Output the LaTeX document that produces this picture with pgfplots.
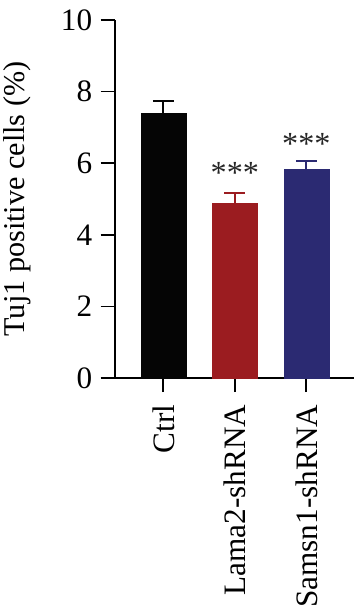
\documentclass[border={0pt 4pt 1pt 6pt}]{standalone}
\usepackage{pgfplots}
\pgfplotsset{compat=1.18}
\usepackage{fontspec}
\setmainfont{Liberation Serif}
\definecolor{cblack}{HTML}{050505}
\definecolor{cred}{HTML}{9B1C20}
\definecolor{cblue}{HTML}{2B2A72}
\begin{document}
\begin{tikzpicture}
\begin{axis}[
  scale only axis, width=238pt, height=356pt,
  xmin=-0.68, xmax=2.67, ymin=0, ymax=10,
  axis x line*=bottom, axis y line*=left,
  axis line style={line width=1.8pt, -},
  xtick={0,1,2}, xticklabels={Ctrl,Lama2-shRNA,Samsn1-shRNA},
  x tick label style={rotate=90, anchor=east, font=\fontsize{31}{32}\selectfont},
  xticklabel shift=9pt,
  ytick={0,2,4,6,8,10}, yticklabels={0,2,4,6,8,10},
  y tick label style={font=\fontsize{31}{32}\selectfont},
  yticklabel shift=5pt,
  tick style={line width=1.8pt, black},
  major tick length=14pt,
  tick align=outside,
  ylabel={Tuj1 positive cells (\%)},
  every axis y label/.style={at={(axis description cs:0,0.5)}, rotate=90, anchor=south, yshift=80pt, font=\fontsize{30}{30}\selectfont},
  ybar, bar width=45pt, bar shift=0pt,
  clip=false,
]
\addplot[fill=cblack, draw=cblack, error bars/.cd, y dir=plus, y explicit,
  error bar style={line width=1.8pt, cblack},
  error mark options={rotate=90, mark size=10.5pt, line width=1.8pt, cblack}]
  coordinates {(0,7.40) +- (0,0.33)};
\addplot[fill=cred, draw=cred, error bars/.cd, y dir=plus, y explicit,
  error bar style={line width=1.8pt, cred},
  error mark options={rotate=90, mark size=10.5pt, line width=1.8pt, cred}]
  coordinates {(1,4.88) +- (0,0.28)};
\addplot[fill=cblue, draw=cblue, error bars/.cd, y dir=plus, y explicit,
  error bar style={line width=1.8pt, cblue},
  error mark options={rotate=90, mark size=10.5pt, line width=1.8pt, cblue}]
  coordinates {(2,5.82) +- (0,0.24)};
\node[font=\fontsize{32}{32}\selectfont, text=black!85] at (axis cs:1,5.74) {***};
\node[font=\fontsize{32}{32}\selectfont, text=black!85] at (axis cs:2,6.53) {***};
\end{axis}
\end{tikzpicture}
\end{document}
